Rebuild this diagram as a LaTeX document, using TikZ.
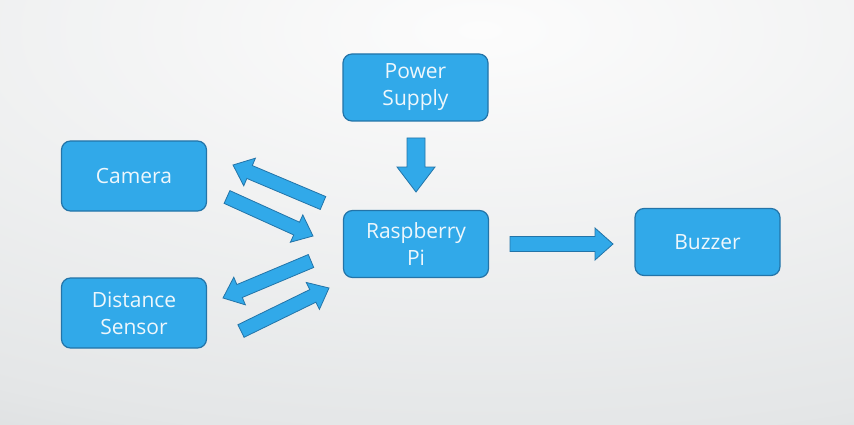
\documentclass[tikz,border=0pt]{standalone}
\usepackage{fontspec}
\setmainfont{Open Sans}
\usetikzlibrary{calc}

\definecolor{boxblue}{HTML}{31A9E9}
\definecolor{edgeblue}{HTML}{2374A8}
\definecolor{labelwhite}{HTML}{EEF7FC}
\definecolor{bgA}{HTML}{FCFCFC}
\definecolor{bgB}{HTML}{E4E6E7}
\definecolor{bgC}{HTML}{C8CBCD}
\pgfdeclareradialshading{slidebg}{\pgfpoint{0bp}{0bp}}{color(0bp)=(bgA); color(16bp)=(bgB); color(25bp)=(bgC); color(50bp)=(bgC)}

\tikzstyle{block}=[draw=edgeblue, fill=boxblue, line width=1.2pt, rounded corners=9pt, minimum width=145pt, minimum height=67pt, align=center, text=labelwhite, font=\fontsize{21}{27}\selectfont]
\tikzstyle{blockarrow}=[draw=edgeblue, fill=boxblue, line width=0.8pt, line join=miter]

\newcommand{\shafthw}{7pt}
\newcommand{\headhw}{15pt}
\newcommand{\headlen}{18pt}
\newcommand{\blockarrow}[2]{%
  \draw[blockarrow] ($(#1)!\shafthw!90:(#2)$) -- ($(#1)!\shafthw!-90:(#2)$)
    -- ($(#2)!\headlen!(#1)!\shafthw!-90:(#2)$) -- ($(#2)!\headlen!(#1)!\headhw!-90:(#2)$)
    -- (#2) -- ($(#2)!\headlen!(#1)!\headhw!90:(#2)$)
    -- ($(#2)!\headlen!(#1)!\shafthw!90:(#2)$) -- cycle;}

\begin{document}
\begin{tikzpicture}[x=1pt, y=-1pt]
  \useasboundingbox (0,0) rectangle (854,425);
  \begin{scope}
    \clip (0,0) rectangle (854,425);
    \fill[bgC] (0,0) rectangle (854,425);
    \shade[shading=slidebg] (480,30) ellipse (1500 and 640);
  \end{scope}

  \node[block] (power) at (415.5, 87.5) {Power\\Supply};
  \node[block, minimum height=70pt] (camera) at (134, 176) {Camera};
  \node[block] (pi) at (416, 244) {Raspberry\\Pi};
  \node[block, minimum height=70pt] (sensor) at (134, 313) {Distance\\Sensor};
  \node[block] (buzzer) at (707.5, 242) {Buzzer};

  \coordinate (powerout) at (416, 138);
  \coordinate (powerin) at (416, 192);
  \coordinate (camout) at (227, 197);
  \coordinate (camin) at (233, 165);
  \coordinate (piup) at (323, 203);
  \coordinate (piupin) at (313, 236);
  \coordinate (pidown) at (311, 261);
  \coordinate (pidownin) at (329, 288);
  \coordinate (sensorin) at (223, 298);
  \coordinate (sensorout) at (241, 331);
  \coordinate (piout) at (510, 244);
  \coordinate (buzzerin) at (613, 244);

  {\renewcommand{\shafthw}{9pt}\renewcommand{\headhw}{19pt}\renewcommand{\headlen}{25pt}%
   \blockarrow{powerout}{powerin}}
  \blockarrow{piup}{camin}
  \blockarrow{camout}{piupin}
  \blockarrow{pidown}{sensorin}
  \blockarrow{sensorout}{pidownin}
  {\renewcommand{\shafthw}{7.5pt}\renewcommand{\headhw}{16pt}%
   \blockarrow{piout}{buzzerin}}
\end{tikzpicture}
\end{document}
